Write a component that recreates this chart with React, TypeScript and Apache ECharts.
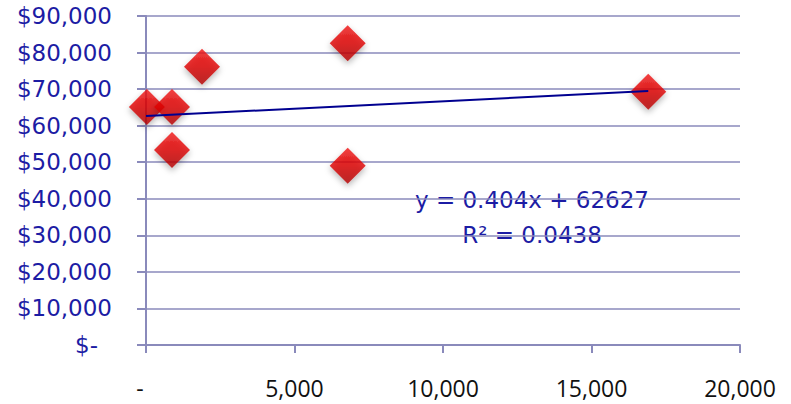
import React, { useEffect, useRef } from "react";
import * as echarts from "echarts";

const xValues = [30, 875, 875, 1885, 6790, 6790, 16910];
const yValues = [65100, 65100, 53340, 76120, 82520, 49040, 69280];
const slope = 0.404;
const intercept = 62627;
const rSquared = 0.0438;
const xTicks = [0, 5000, 10000, 15000, 20000];
const yTicks = [0, 10000, 20000, 30000, 40000, 50000, 60000, 70000, 80000, 90000];

const fmtMoney = (v: number) => (v === 0 ? "{d|$-}" : "$" + v.toLocaleString("en-US"));
const fmtNum = (v: number) => (v === 0 ? "{d|-}" : v.toLocaleString("en-US"));

export default function App() {
  const ref = useRef<HTMLDivElement>(null);
  useEffect(() => {
    document.body.style.margin = "0";
    const chart = echarts.init(ref.current!, null, { renderer: "svg" });
    const points = xValues.map((x, i) => [x, yValues[i]]);
    const maxX = Math.max(...xValues);
    const trend = [
      [0, intercept],
      [maxX, slope * maxX + intercept],
    ];
    const gridColor = "#8a8abb";
    const blue = "#1c1ca4";
    chart.setOption({
      animation: false,
      backgroundColor: "#ffffff",
      grid: { left: 146, right: 51, top: 16, bottom: 59, containLabel: false },
      xAxis: {
        type: "value",
        min: xTicks[0],
        max: xTicks[xTicks.length - 1],
        interval: 5000,
        splitLine: { show: false },
        axisLine: { show: true, onZero: false, lineStyle: { color: gridColor, width: 2 } },
        axisTick: { show: true, length: 8, lineStyle: { color: gridColor, width: 2 } },
        axisLabel: {
          margin: 31,
          color: "#111111",
          fontFamily: "Open Sans",
          fontSize: 23,
          formatter: fmtNum,
          rich: { d: { fontFamily: "Open Sans", fontSize: 23, color: "#111111", padding: [0, 12, 0, 0] } },
        },
      },
      yAxis: {
        type: "value",
        min: yTicks[0],
        max: yTicks[yTicks.length - 1],
        interval: 10000,
        splitLine: { show: true, lineStyle: { color: gridColor, width: 1.5 } },
        axisLine: { show: true, onZero: false, lineStyle: { color: gridColor, width: 2 } },
        axisTick: { show: true, length: 9, lineStyle: { color: gridColor, width: 2 } },
        axisLabel: {
          margin: 34,
          color: blue,
          fontFamily: "DejaVu Sans",
          fontSize: 23,
          formatter: fmtMoney,
          rich: { d: { fontFamily: "DejaVu Sans", fontSize: 23, color: blue, padding: [0, 14, 0, 0] } },
        },
      },
      series: [
        {
          type: "scatter",
          data: points,
          symbol: "diamond",
          symbolSize: 36,
          z: 2,
          itemStyle: {
            color: new echarts.graphic.LinearGradient(0, 0, 0, 1, [
              { offset: 0, color: "#f01010" },
              { offset: 0.5, color: "#dd0000" },
              { offset: 1, color: "#b00000" },
            ]),
            shadowColor: "rgba(0,0,0,0.35)",
            shadowBlur: 6,
            shadowOffsetY: 3,
          },
        },
        {
          type: "line",
          data: trend,
          showSymbol: false,
          symbol: "none",
          z: 3,
          lineStyle: { color: "#000090", width: 2 },
        },
      ],
      graphic: [
        {
          type: "text",
          x: 532,
          y: 200,
          style: {
            text: `y = ${slope}x + ${intercept}`,
            fill: blue,
            font: '23px "DejaVu Sans"',
            align: "center",
            verticalAlign: "middle",
          },
        },
        {
          type: "text",
          x: 532,
          y: 235,
          style: {
            text: `R² = ${rSquared}`,
            fill: blue,
            font: '23px "DejaVu Sans"',
            align: "center",
            verticalAlign: "middle",
          },
        },
      ],
    });
    return () => chart.dispose();
  }, []);
  return <div ref={ref} style={{ width: 791, height: 404 }} />;
}
